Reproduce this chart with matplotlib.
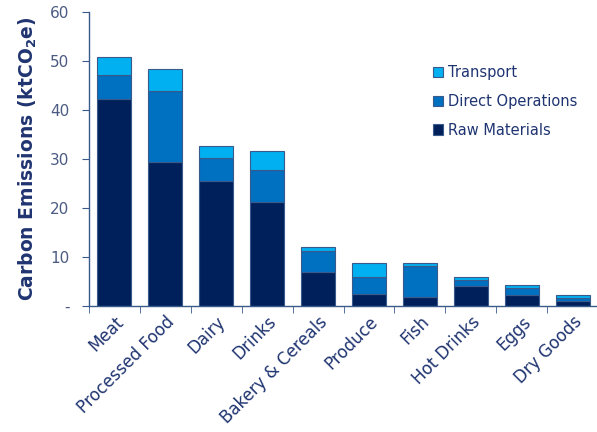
import numpy as np
import matplotlib.pyplot as plt

categories = ['Meat', 'Processed Food', 'Dairy', 'Drinks', 'Bakery & Cereals',
              'Produce', 'Fish', 'Hot Drinks', 'Eggs', 'Dry Goods']
raw_materials = [42.2, 29.4, 25.5, 21.3, 7.0, 2.5, 1.9, 4.1, 2.2, 0.9]
direct_ops = [4.9, 14.5, 4.6, 6.4, 4.2, 3.4, 6.3, 1.1, 1.5, 0.7]
transport = [3.7, 4.5, 2.5, 4.0, 0.8, 2.8, 0.5, 0.6, 0.5, 0.6]

c_raw = '#00205B'
c_direct = '#0070C0'
c_transport = '#00B0F0'
edge = '#3A5A8C'
text_col = '#1F3470'
tick_col = '#4A5A82'

fig = plt.figure(figsize=(5.97, 4.32), dpi=100)
ax = fig.add_axes([0.149, 0.292, 0.853, 0.68])

x = np.arange(len(categories))
w = 0.67
raw = np.array(raw_materials)
direct = np.array(direct_ops)
trans = np.array(transport)

b1 = ax.bar(x, raw, w, color=c_raw, edgecolor=edge, linewidth=0.8, label='Raw Materials')
b2 = ax.bar(x, direct, w, bottom=raw, color=c_direct, edgecolor=edge, linewidth=0.8,
            label='Direct Operations')
b3 = ax.bar(x, trans, w, bottom=raw + direct, color=c_transport, edgecolor=edge,
            linewidth=0.8, label='Transport')

ax.set_xlim(-0.5, len(categories) - 0.5)
ax.set_ylim(0, 60)
ax.set_yticks(range(0, 61, 10))
ax.set_yticklabels(['-'] + [str(v) for v in range(10, 61, 10)])

ax.set_xticks(x)
ax.set_xticklabels(categories, rotation=45, ha='right', rotation_mode='anchor',
                   fontsize=12, color=text_col)
ax.set_xticks(np.arange(-0.5, len(categories), 1), minor=True)
ax.tick_params(axis='x', which='major', length=0, pad=5)
ax.tick_params(axis='x', which='minor', length=5, direction='out', color=edge)
ax.tick_params(axis='y', length=5, direction='out', color=edge, labelsize=11,
               labelcolor=tick_col, pad=9)

for s in ['top', 'right']:
    ax.spines[s].set_visible(False)
for s in ['left', 'bottom']:
    ax.spines[s].set_color(edge)
    ax.spines[s].set_linewidth(1.0)

ax.set_ylabel(r'Carbon Emissions (ktCO$_\mathbf{2}$e)', fontsize=13.5, fontweight='bold',
              color=text_col, labelpad=8)

handles = [b3, b2, b1]
leg = ax.legend(handles, [h.get_label() for h in handles], loc='upper left',
                bbox_to_anchor=(0.65, 0.865), frameon=False, fontsize=10.5,
                handlelength=0.7, handleheight=0.7, handletextpad=0.3,
                labelspacing=0.95, labelcolor=text_col)

fig.savefig('out.png', dpi=100)
